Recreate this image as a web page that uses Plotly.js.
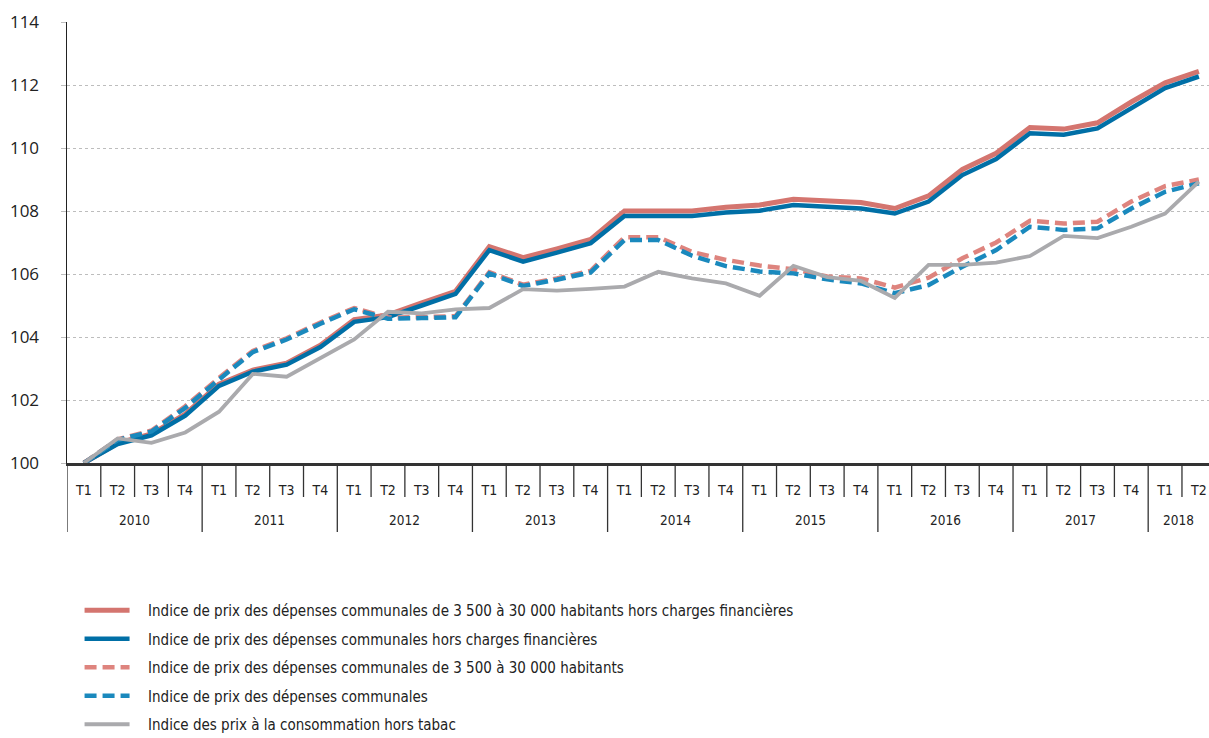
<!DOCTYPE html>
<html>
<head>
<meta charset="utf-8">
<script src="https://cdn.plot.ly/plotly-3.0.1.min.js"></script>
<style>html,body{margin:0;padding:0;background:#fff;}#chart{width:1209px;height:738px;}</style>
</head>
<body>
<div id="chart"></div>
<script>
// ---- Data ----
var years = ['2010','2011','2012','2013','2014','2015','2016','2017','2018'];
var quartersPerYear = [4,4,4,4,4,4,4,4,2];
var quarterLabels = ['T1','T2','T3','T4'];

var seriesNames = [
  'Indice de prix des dépenses communales de 3 500 à 30 000 habitants hors charges financières',
  'Indice de prix des dépenses communales hors charges financières',
  'Indice de prix des dépenses communales de 3 500 à 30 000 habitants',
  'Indice de prix des dépenses communales',
  'Indice des prix à la consommation hors tabac'
];

var strateHorsCharges = [100,100.63,100.92,101.55,102.5,102.95,103.17,103.74,104.55,104.7,105.08,105.45,106.87,106.52,106.8,107.1,108.0,108.0,108.0,108.12,108.19,108.37,108.32,108.27,108.08,108.48,109.32,109.83,110.65,110.6,110.8,111.46,112.07,112.43];
var communesHorsCharges = [100,100.6,100.88,101.5,102.45,102.9,103.12,103.68,104.48,104.63,105.0,105.37,106.76,106.39,106.68,106.98,107.84,107.84,107.84,107.95,108.01,108.19,108.14,108.08,107.92,108.3,109.14,109.65,110.47,110.42,110.62,111.28,111.9,112.27];
var strateTotal = [100,100.75,101.03,101.8,102.7,103.56,103.96,104.46,104.92,104.62,104.63,104.66,106.06,105.66,105.86,106.1,107.17,107.17,106.7,106.45,106.27,106.15,105.92,105.86,105.57,105.88,106.5,107.0,107.69,107.6,107.66,108.3,108.79,109.0];
var communesTotal = [100,100.73,101.0,101.75,102.65,103.52,103.92,104.42,104.88,104.58,104.6,104.63,106.02,105.62,105.82,106.05,107.08,107.08,106.58,106.25,106.08,106.02,105.83,105.7,105.39,105.65,106.23,106.76,107.5,107.4,107.45,108.08,108.61,108.88];
var ipcHorsTabac = [100,100.78,100.64,100.97,101.63,102.83,102.74,103.33,103.92,104.8,104.75,104.88,104.92,105.52,105.47,105.53,105.6,106.07,105.86,105.7,105.31,106.26,105.9,105.78,105.24,106.29,106.29,106.36,106.57,107.21,107.14,107.5,107.92,108.93];

var yTicks = [100,102,104,106,108,110,112,114];

// ---- Build category positions ----
var qText = [], yearOf = [];
years.forEach(function(y, k){
  for (var q = 0; q < quartersPerYear[k]; q++){ qText.push(quarterLabels[q]); yearOf.push(y); }
});
var idx = qText.map(function(_, i){ return i; });
var xMax = idx.length - 0.7; // right part of last quarter cut off as in the original

var styles = [
  {color:'#d4756f', width:5, dash:'solid'},
  {color:'#006fa6', width:4.5, dash:'solid'},
  {color:'#de847e', width:4.5, dash:'12px,6px'},
  {color:'#1a89bd', width:4.5, dash:'12px,6px'},
  {color:'#aaaaad', width:3.8, dash:'solid'}
];
var values = [strateHorsCharges, communesHorsCharges, strateTotal, communesTotal, ipcHorsTabac];

var traces = values.map(function(v, k){
  return {
    x: idx, y: v, type:'scatter', mode:'lines', name: '\u2003' + seriesNames[k],
    legendgroup: 'g'+k,
    line: {color: styles[k].color, width: styles[k].width, dash: styles[k].dash},
    hoverinfo:'skip'
  };
});

// ---- Separators and year labels ----
var plotH = 441;
var shapes = [], annotations = [];
var start = 0;
years.forEach(function(y, k){
  var n = quartersPerYear[k];
  shapes.push({type:'line', xref:'x', yref:'paper', x0:start-0.5, x1:start-0.5, y0:0, y1:-69/plotH,
    line:{color:'#333', width:1.3}});
  for (var q = 1; q < n; q++){
    shapes.push({type:'line', xref:'x', yref:'paper', x0:start+q-0.5, x1:start+q-0.5, y0:0, y1:-34/plotH,
      line:{color:'#333', width:1.3}});
  }
  var end = Math.min(start + n - 0.5, xMax);
  annotations.push({xref:'x', yref:'paper', x:(start - 0.5 + end)/2, y:-57/plotH,
    text:y, showarrow:false, yanchor:'middle', xanchor:'center',
    font:{family:'DejaVu Sans Condensed, Liberation Sans Narrow, sans-serif', size:13.5, color:'#222'}});
  start += n;
});

var layout = {
  width:1209, height:738,
  margin:{l:67, r:0, t:22, b:275, pad:0, autoexpand:false},
  paper_bgcolor:'#fff', plot_bgcolor:'#fff',
  showlegend:true,
  legend:{
    orientation:'v', x:0.011, xanchor:'left', y:-131/plotH, yanchor:'top',
    font:{family:'DejaVu Sans Condensed, Liberation Sans Narrow, sans-serif', size:15, color:'#222'},
    itemwidth:45, tracegroupgap:6, bgcolor:'rgba(0,0,0,0)'
  },
  xaxis:{
    range:[-0.5, xMax], tickmode:'array', tickvals:idx, ticktext:qText,
    showgrid:false, zeroline:false, showline:true, linecolor:'#333', linewidth:2.5,
    ticks:'', ticklabelstandoff:13,
    tickfont:{family:'DejaVu Sans Condensed, Liberation Sans Narrow, sans-serif', size:14, color:'#222'},
    fixedrange:true
  },
  yaxis:{
    range:[100,114], tickmode:'array', tickvals:yTicks, ticktext:yTicks.map(String),
    showgrid:true, gridcolor:'#bdbdbd', gridwidth:1, griddash:'3px,3px',
    zeroline:false, showline:true, linecolor:'#222', linewidth:1.5,
    ticks:'outside', ticklen:5, tickcolor:'#bdbdbd', tickwidth:1,
    ticklabelstandoff:18,
    tickfont:{family:'Open Sans, sans-serif', size:17, color:'#222'},
    fixedrange:true
  },
  shapes:shapes,
  annotations:annotations
};

Plotly.newPlot('chart', traces, layout, {displayModeBar:false, staticPlot:true});
</script>
</body>
</html>
